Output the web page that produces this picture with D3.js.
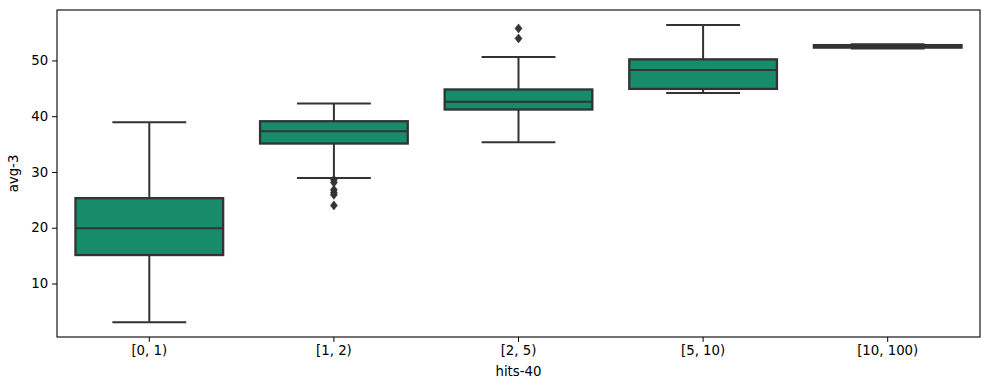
<!DOCTYPE html>
<html>
<head>
<meta charset="utf-8">
<script src="https://cdn.jsdelivr.net/npm/d3@7"></script>
<style>
  body { margin: 0; background: #fff; }
  text { font-family: "DejaVu Sans", sans-serif; fill: #000; }
</style>
</head>
<body>
<div id="chart"></div>
<script>
// Categories and box statistics
const categories = ["[0, 1)", "[1, 2)", "[2, 5)", "[5, 10)", "[10, 100)"];
const whiskerLow = [3.05, 28.9, 35.35, 44.15, 52.15];
const q1 = [15.1, 35.1, 41.2, 44.9, 52.3];
const median = [19.9, 37.3, 42.6, 48.3, 52.5];
const q3 = [25.3, 39.1, 44.8, 50.2, 52.75];
const whiskerHigh = [38.9, 42.3, 50.6, 56.35, 52.9];
const outliers = [[], [28.6, 28.1, 26.8, 26.3, 25.9, 24.0], [55.75, 53.95], [], []];
const yTicks = [10, 20, 30, 40, 50];

const margin = {top: 10, left: 57, right: 9, bottom: 53};
const width = 989 - margin.left - margin.right;
const height = 390 - margin.top - margin.bottom;

const svg = d3.select("#chart").append("svg")
    .attr("width", 989)
    .attr("height", 390)
  .append("g")
    .attr("transform", `translate(${margin.left},${margin.top})`);

const xScale = d3.scaleBand()
    .domain(categories)
    .range([0, width])
    .paddingInner(0.2)
    .paddingOuter(0.1);

const yScale = d3.scaleLinear()
    .domain([0.4, 59.05])
    .range([height, 0]);

const fill = "#178c6a";
const edge = "#333333";
const lw = 2;

const data = categories.map((c, i) => ({
  cat: c, lo: whiskerLow[i], q1: q1[i], med: median[i], q3: q3[i], hi: whiskerHigh[i], out: outliers[i]
}));

const boxes = svg.selectAll(".box")
  .data(data)
  .join("g")
    .attr("class", "box");

const bw = xScale.bandwidth();
const cx = d => xScale(d.cat) + bw / 2;

// whiskers
boxes.append("line")
    .attr("x1", cx).attr("x2", cx)
    .attr("y1", d => yScale(d.hi)).attr("y2", d => yScale(d.q3))
    .attr("stroke", edge).attr("stroke-width", lw);
boxes.append("line")
    .attr("x1", cx).attr("x2", cx)
    .attr("y1", d => yScale(d.q1)).attr("y2", d => yScale(d.lo))
    .attr("stroke", edge).attr("stroke-width", lw);

// caps
["lo", "hi"].forEach(k => {
  boxes.append("line")
      .attr("x1", d => cx(d) - bw / 4).attr("x2", d => cx(d) + bw / 4)
      .attr("y1", d => yScale(d[k])).attr("y2", d => yScale(d[k]))
      .attr("stroke", edge).attr("stroke-width", lw);
});

// box
boxes.append("rect")
    .attr("x", d => xScale(d.cat))
    .attr("width", bw)
    .attr("y", d => yScale(d.q3))
    .attr("height", d => Math.max(yScale(d.q1) - yScale(d.q3), 0.5))
    .attr("fill", fill)
    .attr("stroke", edge)
    .attr("stroke-width", lw + 0.3);

// median
boxes.append("line")
    .attr("x1", d => xScale(d.cat)).attr("x2", d => xScale(d.cat) + bw)
    .attr("y1", d => yScale(d.med)).attr("y2", d => yScale(d.med))
    .attr("stroke", edge).attr("stroke-width", lw);

// outliers as thin diamonds
boxes.selectAll(".flier")
  .data(d => d.out.map(v => ({cat: d.cat, v})))
  .join("path")
    .attr("class", "flier")
    .attr("d", d => {
      const x = cx(d), y = yScale(d.v);
      return `M${x},${y - 4.5}L${x + 3.5},${y}L${x},${y + 4.5}L${x - 3.5},${y}Z`;
    })
    .attr("fill", edge)
    .attr("stroke", edge)
    .attr("stroke-width", 0.6);

// frame
svg.append("rect")
    .attr("width", width).attr("height", height)
    .attr("fill", "none").attr("stroke", "#000").attr("stroke-width", 1.1);

// axes
const xAxis = d3.axisBottom(xScale).tickSizeOuter(0).tickSize(4.9).tickPadding(4);
const yAxis = d3.axisLeft(yScale).tickValues(yTicks).tickSizeOuter(0).tickSize(4.9).tickPadding(4);

const xAxisGroup = svg.append("g")
    .attr("transform", `translate(0,${height})`)
    .call(xAxis);
const yAxisGroup = svg.append("g").call(yAxis);

[xAxisGroup, yAxisGroup].forEach(g => {
  g.select(".domain").remove();
  g.selectAll("line").attr("stroke", "#000").attr("stroke-width", 1);
  g.selectAll("text").attr("font-size", "13.3px").attr("font-family", "DejaVu Sans").attr("fill", "#000");
});

svg.append("text")
    .attr("x", width / 2)
    .attr("y", height + 39)
    .attr("text-anchor", "middle")
    .attr("font-size", "13.3px")
    .text("hits-40");

svg.append("text")
    .attr("transform", `translate(${-39},${height / 2}) rotate(-90)`)
    .attr("text-anchor", "middle")
    .attr("font-size", "13.3px")
    .text("avg-3");
</script>
</body>
</html>
